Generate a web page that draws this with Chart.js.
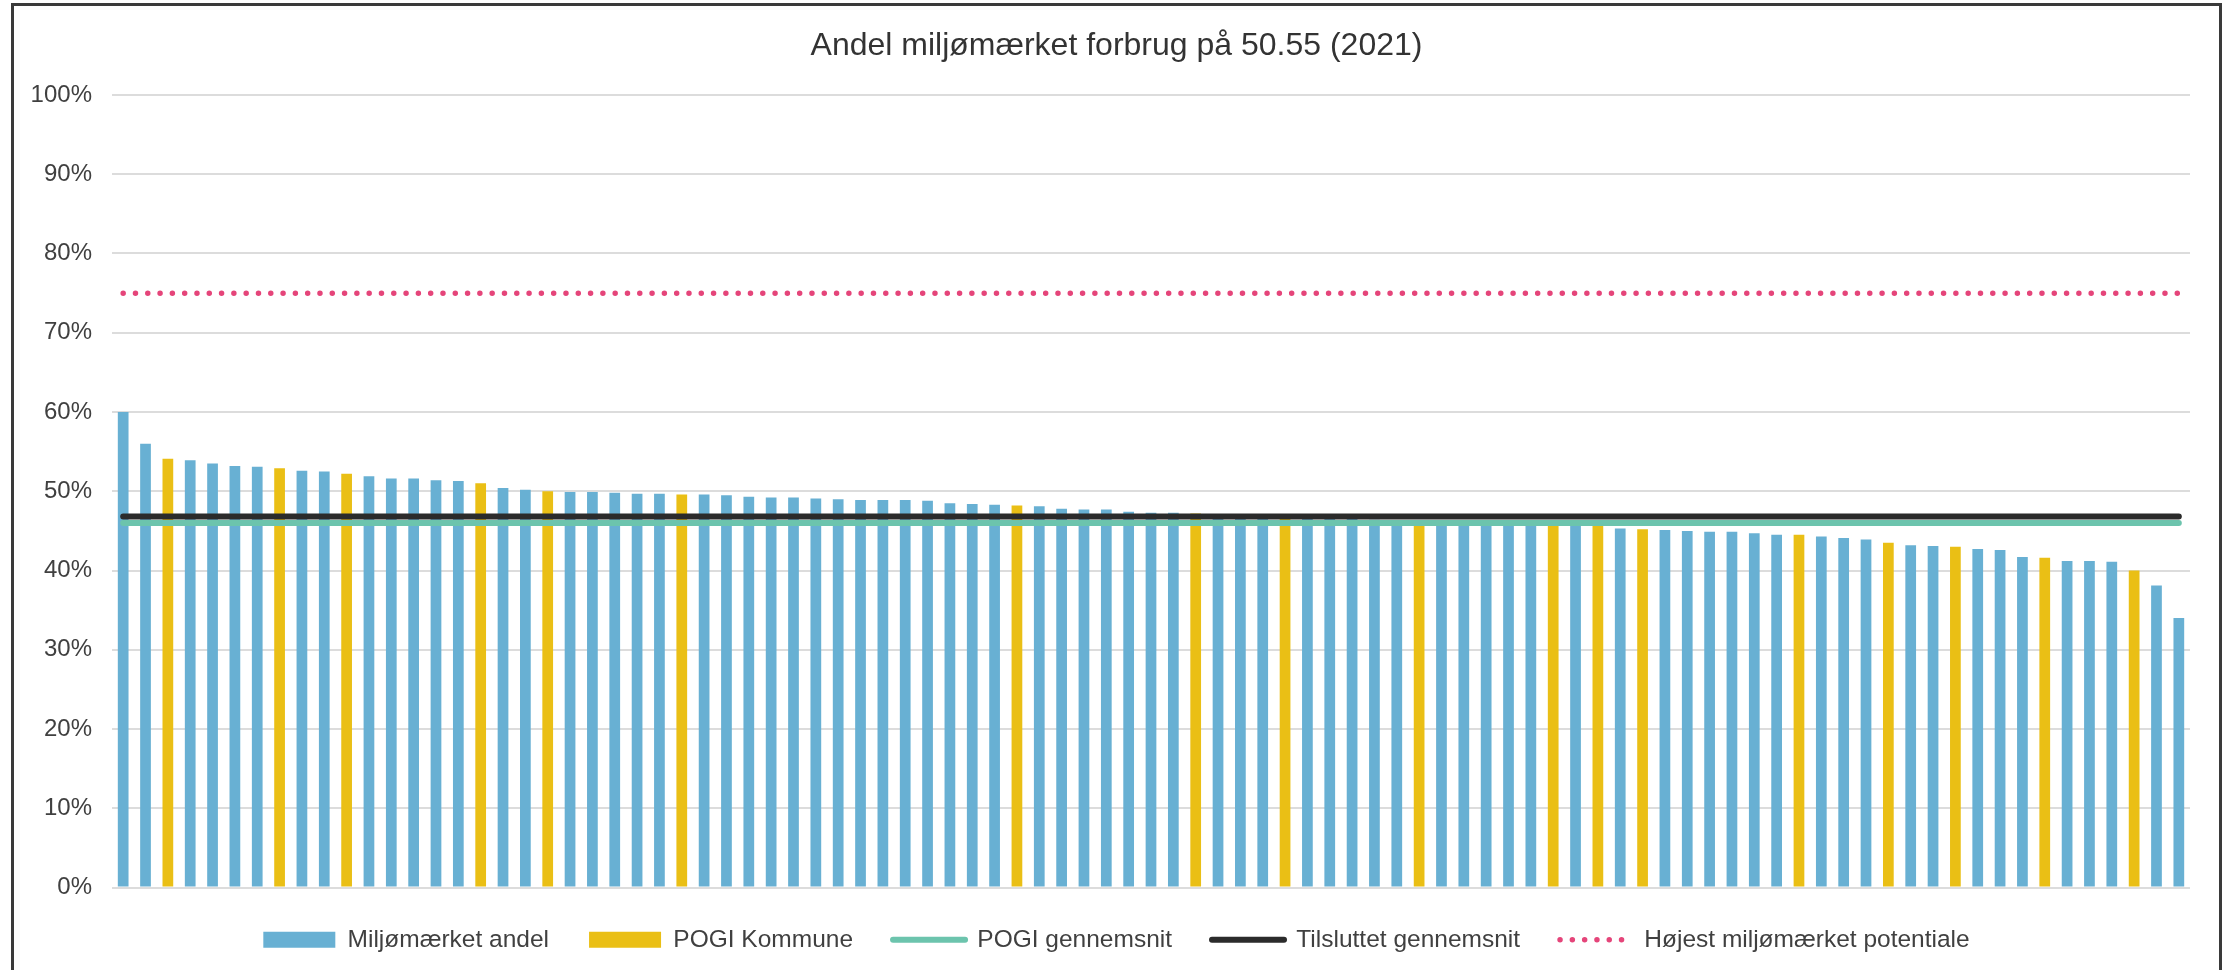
<!DOCTYPE html>
<html>
<head>
<meta charset="utf-8">
<title>Andel miljømærket forbrug</title>
<script src="https://cdn.jsdelivr.net/npm/chart.js@4.4.1/dist/chart.umd.min.js"></script>
<style>
    body { margin: 0; background: #fff; }
    #wrap { position: relative; width: 2233px; height: 970px; overflow: hidden; }
    #frame { position: absolute; left: 11px; top: 3px; width: 2205px; height: 975px; border: 3px solid #3a3a3a; pointer-events: none; }
</style>
</head>
<body>
<div id="wrap">
    <canvas id="miljoChart" width="2233" height="970"></canvas>
    <div id="frame"></div>
</div>
<script>
// Miljømærket andel pr. kommune (sorteret), i procent
var andel = [
    60.0, 56.0, 54.1, 53.9, 53.5, 53.2, 53.1, 52.9, 52.6, 52.5,
    52.2, 51.9, 51.6, 51.6, 51.4, 51.3, 51.0, 50.4, 50.2, 50.0,
    49.9, 49.9, 49.8, 49.7, 49.7, 49.6, 49.6, 49.5, 49.3, 49.2,
    49.2, 49.1, 49.0, 48.9, 48.9, 48.9, 48.8, 48.5, 48.4, 48.3,
    48.2, 48.1, 47.8, 47.7, 47.7, 47.4, 47.3, 47.3, 47.2, 47.1,
    47.0, 46.9, 46.8, 46.7, 46.6, 46.5, 46.4, 46.3, 46.2, 46.1,
    46.0, 45.9, 45.8, 45.7, 45.7, 45.6, 45.6, 45.3, 45.2, 45.1,
    45.0, 44.9, 44.9, 44.7, 44.5, 44.5, 44.3, 44.1, 43.9, 43.5,
    43.2, 43.1, 43.0, 42.7, 42.6, 41.7, 41.6, 41.2, 41.2, 41.1,
    40.0, 38.1, 34.0
];

// POGI kommuner (position i rækken, 1-baseret)
var pogiKommuner = [3, 8, 11, 17, 20, 26, 41, 49, 53, 59, 65, 67, 69, 76, 80, 83, 87, 91];

// gennemsnit og potentiale (procent)
var pogiGennemsnit = 46.0;
var tilsluttetGennemsnit = 46.8;
var hoejestPotentiale = 75.0;

var yTicks = [0, 10, 20, 30, 40, 50, 60, 70, 80, 90, 100];

var labels = andel.map(function (v, i) { return 'Kommune ' + (i + 1); });

var blueValues = andel.map(function (v, i) { return pogiKommuner.indexOf(i + 1) >= 0 ? null : v; });
var yellowValues = andel.map(function (v, i) { return pogiKommuner.indexOf(i + 1) >= 0 ? v : null; });

function flatLine(value) {
    return andel.map(function () { return value; });
}

var fontFamily = 'Liberation Sans, Arial, sans-serif';

var ctx = document.getElementById('miljoChart').getContext('2d');
new Chart(ctx, {
    type: 'bar',
    data: {
        labels: labels,
        datasets: [{
            label: 'Miljømærket andel',
            data: blueValues,
            backgroundColor: '#68b0d3',
            grouped: false,
            order: 5
        }, {
            label: 'POGI Kommune',
            data: yellowValues,
            backgroundColor: '#eabf15',
            grouped: false,
            order: 4
        }, {
            type: 'line',
            label: 'POGI gennemsnit',
            data: flatLine(pogiGennemsnit),
            borderColor: '#6cc4ad',
            borderWidth: 6,
            borderCapStyle: 'round',
            pointRadius: 0,
            fill: false,
            order: 3
        }, {
            type: 'line',
            label: 'Tilsluttet gennemsnit',
            data: flatLine(tilsluttetGennemsnit),
            borderColor: '#2b2b2b',
            borderWidth: 6,
            borderCapStyle: 'round',
            pointRadius: 0,
            fill: false,
            order: 2
        }, {
            type: 'line',
            label: 'Højest miljømærket potentiale',
            data: flatLine(hoejestPotentiale),
            borderColor: '#e5457a',
            borderWidth: 5.5,
            borderCapStyle: 'round',
            borderDash: [0, 12.3],
            pointRadius: 0,
            fill: false,
            order: 1
        }]
    },
    options: {
        responsive: false,
        animation: false,
        layout: {
            padding: { left: 0, right: 0, top: 0, bottom: 8 }
        },
        datasets: {
            bar: {
                barPercentage: 0.48,
                categoryPercentage: 1
            }
        },
        scales: {
            x: {
                display: false
            },
            y: {
                min: 0,
                max: 100,
                afterFit: function (scale) { scale.width = 112; },
                afterBuildTicks: function (scale) {
                    scale.ticks = yTicks.map(function (v) { return { value: v }; });
                },
                ticks: {
                    padding: 20,
                    color: '#404040',
                    font: { family: fontFamily, size: 24 },
                    callback: function (value) { return value + '%'; }
                },
                grid: {
                    color: '#dcdcdc',
                    lineWidth: 2,
                    drawTicks: false
                },
                border: { display: false }
            },
            // empty right-hand axis, only keeps the right margin so title/legend stay centred
            yRight: {
                position: 'right',
                min: 0,
                max: 100,
                afterFit: function (scale) { scale.width = 43; },
                ticks: { display: false },
                grid: { display: false, drawTicks: false },
                border: { display: false }
            }
        },
        plugins: {
            title: {
                display: true,
                text: 'Andel miljømærket forbrug på 50.55 (2021)',
                color: '#333333',
                font: { family: fontFamily, size: 32, weight: 'normal', lineHeight: 1.2 },
                padding: { top: 27, bottom: 29.6 }
            },
            legend: {
                position: 'bottom',
                labels: {
                    usePointStyle: true,
                    pointStyleWidth: 72,
                    boxHeight: 16,
                    padding: 40,
                    color: '#404040',
                    font: { family: fontFamily, size: 24.5 },
                    generateLabels: function (chart) {
                        return chart.data.datasets.map(function (ds, i) {
                            var isLine = ds.type === 'line';
                            return {
                                text: ds.label,
                                datasetIndex: i,
                                fillStyle: isLine ? 'rgba(0,0,0,0)' : ds.backgroundColor,
                                strokeStyle: isLine ? ds.borderColor : ds.backgroundColor,
                                lineWidth: isLine ? ds.borderWidth : 0,
                                lineDash: ds.borderDash || [],
                                lineCap: isLine ? 'round' : 'butt',
                                pointStyle: isLine ? 'line' : 'rect',
                                fontColor: '#404040',
                                hidden: false
                            };
                        });
                    }
                }
            },
            tooltip: { enabled: false }
        }
    }
});
</script>
</body>
</html>
